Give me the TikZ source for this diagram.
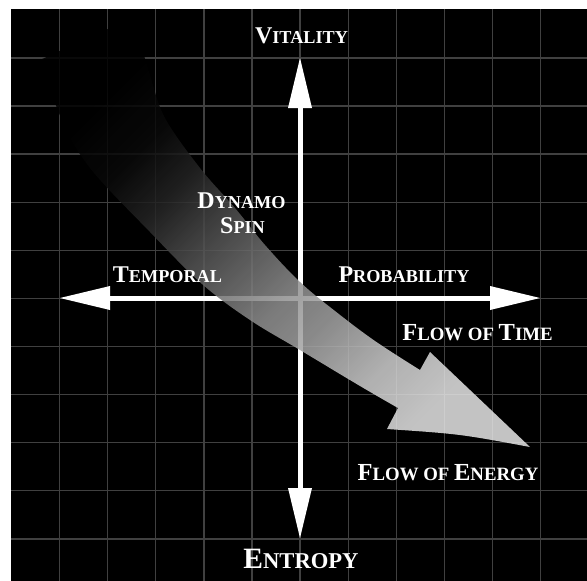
\documentclass[tikz,border=0pt]{standalone}
\usepackage{fontspec}
\setmainfont{Liberation Serif}
\usetikzlibrary{arrows.meta}
\definecolor{gridc}{gray}{0.25}
\definecolor{sc0}{gray}{0}
\definecolor{sc1}{gray}{0.04}
\definecolor{sc2}{gray}{0.15}
\definecolor{sc3}{gray}{0.30}
\definecolor{sc4}{gray}{0.565}
\definecolor{sc5}{gray}{0.635}
\definecolor{sc6}{gray}{0.812}
\definecolor{sc7}{gray}{0.902}
\pgfdeclareverticalshading{flowshade}{100bp}{color(0bp)=(sc7); color(25bp)=(sc7); color(32bp)=(sc6); color(40bp)=(sc5); color(45bp)=(sc4); color(56bp)=(sc3); color(61.5bp)=(sc2); color(67.5bp)=(sc1); color(75bp)=(sc0); color(100bp)=(sc0)}
\newcommand{\mysc}[2]{{\fontsize{24}{24}\selectfont #1}{\fontsize{18.2}{18.2}\selectfont #2}}
\newcommand{\myflowsc}[2]{{\fontsize{24.5}{24.5}\selectfont #1}{\fontsize{18.8}{18.8}\selectfont #2}}
\newcommand{\mybigsc}[2]{{\fontsize{29.5}{29.5}\selectfont #1}{\fontsize{22.6}{22.6}\selectfont #2}}
\begin{document}
\begin{tikzpicture}[x=1pt,y=-1pt,
  gridline/.style={draw=gridc, line width=1.3pt},
  axisline/.style={draw=white, line width=5pt,
    {Triangle[length=50pt,width=24pt,line width=0pt]}-{Triangle[length=50pt,width=24pt,line width=0pt]}},
  lab/.style={text=white, font=\bfseries, inner sep=0pt, anchor=base},
  flow/.style={shading=flowshade, shading angle=45, opacity=0.85}]
\useasboundingbox (0,0) rectangle (587,581);
\fill[white] (0,0) rectangle (587,581);
\fill[black] (11,9) rectangle (587,581);
\foreach \k in {1,...,11} {
  \draw[gridline] ({11.5+48.1*\k},9) -- ({11.5+48.1*\k},581);
  \draw[gridline] (11,{9.8+48.1*\k}) -- (587,{9.8+48.1*\k});
}
\coordinate (vt) at (300,58);
\coordinate (vb) at (300,538);
\coordinate (hl) at (60,298);
\coordinate (hr) at (540,298);
\draw[axisline] (vb) -- (vt);
\draw[axisline] (hl) -- (hr);
\shade[flow]
  plot[smooth, tension=0.6] coordinates {(40,60) (62,120) (90,168) (150,232) (202,284) (250,320) (300,350) (360,386) (398,408)}
  -- (387,429) .. controls (460,434) .. (530,447) -- (430,352) -- (420,370)
  -- plot[smooth, tension=0.6] coordinates {(420,370) (375,341) (335,311) (300,282) (265,245) (235,208) (200,168) (165,118) (150,75) (140,42) (132,18)}
  -- cycle;
\node[lab] (vit) at (301.5,43) {\mysc{V}{ITALITY}};
\node[lab] (ent) at (301,568) {\mybigsc{E}{NTROPY}};
\node[lab] (dyn) at (241.5,208) {\mysc{D}{YNAMO}};
\node[lab] (spin) at (242.5,233) {\mysc{S}{PIN}};
\node[lab] (tmp) at (167.5,282) {\mysc{T}{EMPORAL}};
\node[lab] (prob) at (404,282) {\mysc{P}{ROBABILITY}};
\node[lab] (fot) at (477.5,340) {\myflowsc{F}{LOW OF }\myflowsc{T}{IME}};
\node[lab] (foe) at (448,480) {\myflowsc{F}{LOW OF }\myflowsc{E}{NERGY}};
\end{tikzpicture}
\end{document}
